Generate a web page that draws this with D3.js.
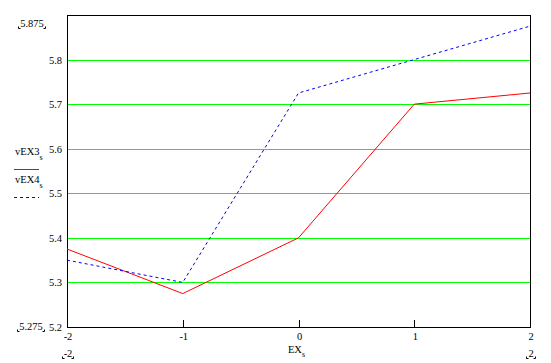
<!DOCTYPE html>
<html>
<head>
<meta charset="utf-8">
<script src="https://cdn.jsdelivr.net/npm/d3@7"></script>
<style>
  body { margin: 0; background: #fff; }
  svg text { font-family: "Liberation Serif", serif; font-size: 10.5px; fill: #000; }
</style>
</head>
<body>
<div id="chart"></div>
<script>
// Data.
var xValues = [-2, -1, 0, 1, 2];
var vEX3 = [5.375, 5.275, 5.4, 5.7, 5.725];
var vEX4 = [5.35, 5.3, 5.725, 5.8, 5.875];
var yGrid = [5.3, 5.4, 5.5, 5.6, 5.7, 5.8];
var yTickLabels = [5.2, 5.3, 5.4, 5.5, 5.6, 5.7, 5.8];
var xTickLabels = [-2, -1, 0, 1, 2];
var xInnerTicks = [-1, 0, 1];
var yDomain = [5.2, 5.9];
var xDomain = [-2, 2];

var fullWidth = 551, fullHeight = 363;
var margin = {top: 15, right: 21, bottom: 36, left: 67};
var width = fullWidth - margin.left - margin.right;
var height = fullHeight - margin.top - margin.bottom;

var svg = d3.select('#chart').append('svg')
    .attr('width', fullWidth)
    .attr('height', fullHeight);

var g = svg.append('g')
    .attr('transform', 'translate(' + margin.left + ',' + margin.top + ')');

var x = d3.scaleLinear().domain(xDomain).range([0, width]);
var y = d3.scaleLinear().domain(yDomain).range([height, 0]);

// Grid lines.
g.selectAll('.grid')
    .data(yGrid)
  .enter().append('line')
    .attr('class', 'grid')
    .attr('x1', 0).attr('x2', width)
    .attr('y1', function(d) { return Math.round(y(d)) + 0.5; })
    .attr('y2', function(d) { return Math.round(y(d)) + 0.5; })
    .attr('stroke', '#00ff00')
    .attr('stroke-width', 1);

// Frame.
g.append('rect')
    .attr('x', 0.5).attr('y', 0.5)
    .attr('width', width).attr('height', height)
    .attr('fill', 'none')
    .attr('stroke', '#000')
    .attr('stroke-width', 1);

// Inner x ticks.
g.selectAll('.xtick')
    .data(xInnerTicks)
  .enter().append('line')
    .attr('x1', function(d) { return Math.round(x(d)) + 0.5; })
    .attr('x2', function(d) { return Math.round(x(d)) + 0.5; })
    .attr('y1', height).attr('y2', height - 7)
    .attr('stroke', '#000');

// Y tick labels.
g.selectAll('.ylab')
    .data(yTickLabels)
  .enter().append('text')
    .attr('x', -5)
    .attr('y', function(d) { return y(d) + 4; })
    .attr('text-anchor', 'end')
    .text(function(d) { return d.toFixed(1); });

// X tick labels.
g.selectAll('.xlab')
    .data(xTickLabels)
  .enter().append('text')
    .attr('x', function(d) { return x(d) + 1; })
    .attr('y', height + 13)
    .attr('text-anchor', 'middle')
    .text(function(d) { return String(d); });

// Series lines.
var line = d3.line()
    .x(function(d, i) { return x(xValues[i]); })
    .y(function(d) { return y(d); });

g.append('path')
    .datum(vEX3)
    .attr('d', line)
    .attr('fill', 'none')
    .attr('stroke', '#ff0000')
    .attr('stroke-width', 1);

g.append('path')
    .datum(vEX4)
    .attr('d', line)
    .attr('fill', 'none')
    .attr('stroke', '#0000ff')
    .attr('stroke-width', 1)
    .attr('stroke-dasharray', '3,3');

// Limit labels with small corner marks at the baseline.
function limitLabel(px, py, txt) {
    var t = svg.append('text')
        .attr('x', px).attr('y', py)
        .attr('text-anchor', 'middle')
        .text(txt);
    var b = t.node().getBBox();
    var l = Math.round(b.x) - 1.5, r = Math.round(b.x + b.width) + 1.5, yb = py + 1.5;
    svg.append('path')
        .attr('d', 'M' + l + ',' + (yb - 2) + 'V' + yb + 'h2'
            + 'M' + r + ',' + (yb - 2) + 'V' + yb + 'h-2')
        .attr('fill', 'none')
        .attr('stroke', '#000')
        .attr('stroke-width', 1);
}

limitLabel(32, 27, d3.max(vEX4).toFixed(3));
limitLabel(31, 330, d3.min(vEX3).toFixed(3));
limitLabel(margin.left + x(xDomain[0]) + 1, 357, String(xDomain[0]));
limitLabel(margin.left + x(xDomain[1]) + 1, 357, String(xDomain[1]));

// X axis title.
var xt = svg.append('text')
    .attr('x', margin.left + x(0) - 2)
    .attr('y', 353)
    .attr('text-anchor', 'middle');
xt.append('tspan').text('EX');
xt.append('tspan').attr('dy', 4).style('font-size', '8px').text('s');

// Legend.
var legend = [
    {name: 'vEX3', y: 155, color: '#ff0000', dash: null},
    {name: 'vEX4', y: 183, color: '#0000ff', dash: '3,3'}
];
legend.forEach(function(d) {
    var t = svg.append('text').attr('x', 15).attr('y', d.y);
    t.append('tspan').text(d.name);
    t.append('tspan').attr('dy', 5).style('font-size', '8px').text('s');
    svg.append('line')
        .attr('x1', 14).attr('x2', 39)
        .attr('y1', d.y + 14.5).attr('y2', d.y + 14.5)
        .attr('stroke', d.color)
        .attr('stroke-dasharray', d.dash);
});
</script>
</body>
</html>
